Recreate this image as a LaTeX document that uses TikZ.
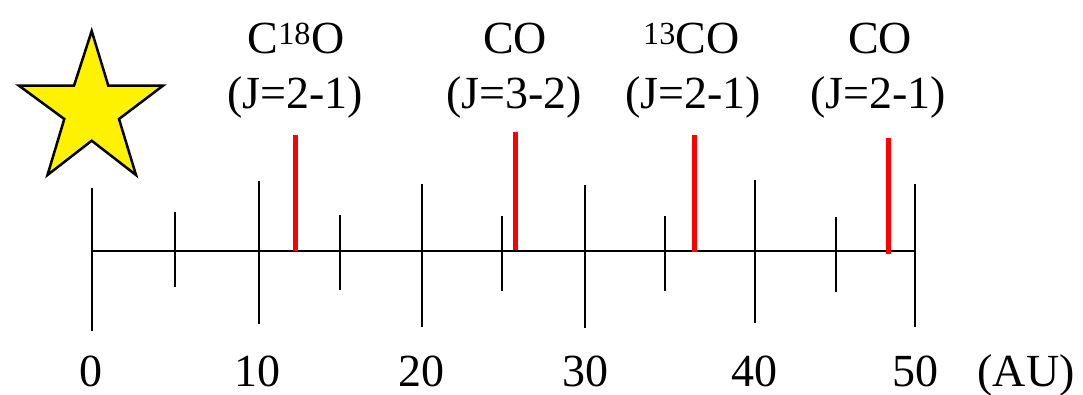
\documentclass[tikz,border=0pt]{standalone}
\usepackage{fontspec}
\setmainfont{Liberation Serif}
\begin{document}
\begin{tikzpicture}[x=1pt,y=-1pt,
  axisline/.style={line width=2pt,black},
  majortick/.style={line width=2pt,black},
  minortick/.style={line width=2pt,black},
  redline/.style={line width=5pt,red},
  lbl/.style={font=\fontsize{46}{55}\selectfont, inner sep=0pt, anchor=base},
  ]
\useasboundingbox (0,0) rectangle (1083,395);
% star
\draw[line width=2.5pt, fill=yellow, line join=miter]
  (91.7,31) -- (108.3,85.7) -- (163,85.7) -- (119,119) -- (136,175)
  -- (91.7,140.7) -- (47.5,175) -- (64.3,119) -- (19,85.7) -- (74,85.7) -- cycle;
% axis
\draw[axisline] (91.7,250.5) -- (915.3,250.5);
% major ticks
\draw[majortick] (91.7,188.3) -- (91.7,331);
\draw[majortick] (258.7,180.7) -- (258.7,324);
\draw[majortick] (422,184) -- (422,326.7);
\draw[majortick] (585.3,184.7) -- (585.3,327.7);
\draw[majortick] (755.3,180.3) -- (755.3,323);
\draw[majortick] (915.3,184) -- (915.3,327);
% minor ticks
\draw[minortick] (175.3,212.3) -- (175.3,287.3);
\draw[minortick] (340.3,215) -- (340.3,290);
\draw[minortick] (502,215.7) -- (502,290.7);
\draw[minortick] (665,216.3) -- (665,291.3);
\draw[minortick] (836.3,217) -- (836.3,292);
% red lines
\draw[redline] (295.3,135) -- (295.3,251);
\draw[redline] (515,132) -- (515,249.5);
\draw[redline] (694.3,135) -- (694.3,252);
\draw[redline] (888.7,137.7) -- (888.7,253.7);
% top labels
\node[lbl] (l1a) at (296,54) {C\textsuperscript{18}O};
\node[lbl] (l1b) at (295,109) {(J=2-1)};
\node[lbl] (l2a) at (515,54) {CO};
\node[lbl] (l2b) at (514,109) {(J=3-2)};
\node[lbl] (l3a) at (691.5,54) {\textsuperscript{13}CO};
\node[lbl] (l3b) at (693,109) {(J=2-1)};
\node[lbl] (l4a) at (880,54) {CO};
\node[lbl] (l4b) at (878,109) {(J=2-1)};
% axis labels
\node[lbl] (n0) at (91,386) {0};
\node[lbl] (n10) at (257.5,386) {10};
\node[lbl] (n20) at (421,386) {20};
\node[lbl] (n30) at (585,386) {30};
\node[lbl] (n40) at (754,386) {40};
\node[lbl] (n50) at (915,386) {50};
\node[lbl] (au) at (1026,386) {(AU)};
\end{tikzpicture}
\end{document}
